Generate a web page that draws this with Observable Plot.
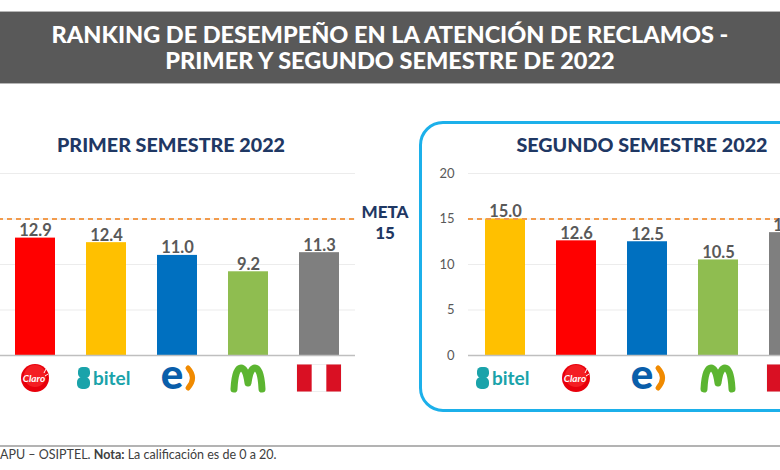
<!DOCTYPE html>
<html>
<head>
<meta charset="utf-8">
<script src="https://cdn.jsdelivr.net/npm/d3@7"></script>
<script src="https://cdn.jsdelivr.net/npm/@observablehq/plot@0.6"></script>
<style>
  html, body { margin: 0; padding: 0; }
  body { width: 780px; height: 470px; overflow: hidden; position: relative; background: #fff; font-family: Lato, "Open Sans", sans-serif; }
  .abs { position: absolute; }
  #banner { left: 0; top: 11px; width: 780px; height: 71px; background: #595959; border-top: 1px solid #b5b5b5; border-bottom: 1px solid #b5b5b5; }
  #banner div { position: absolute; left: 0; width: 780px; text-align: center; color: #fff; font-weight: 900; font-size: 23.5px; line-height: 26px; }
  .ptitle { color: #1f3864; font-weight: 900; font-size: 19.7px; text-align: center; line-height: 22px; white-space: nowrap; }
  #box { left: 419px; top: 121px; width: 420px; height: 285px; border: 3px solid #1cb0ea; border-radius: 24px; }
  #meta { left: 355px; top: 201px; width: 60px; text-align: center; color: #1f3864; font-weight: 900; font-size: 17px; line-height: 21px; }
  #footline { left: 0; top: 445px; width: 780px; height: 2px; background: #b3b3b3; }
  #foot { left: 0; top: 447px; font-size: 12.5px; color: #404040; white-space: nowrap; line-height: 16px; }
  .plotwrap svg { max-width: none !important; overflow: visible; }
</style>
</head>
<body>
<div id="banner" class="abs">
  <div id="t1" style="top:9px"></div>
  <div id="t2" style="top:35px"></div>
</div>
<div id="box" class="abs"></div>
<div id="title1" class="abs ptitle" style="left:21px; top:134px; width:300px;"></div>
<div id="title2" class="abs ptitle" style="left:492px; top:134px; width:300px;"></div>
<div id="chart1" class="abs plotwrap" style="left:-12px; top:160px;"></div>
<div id="chart2" class="abs plotwrap" style="left:418px; top:160px;"></div>
<div id="meta" class="abs"></div>
<div id="footline" class="abs"></div>
<div id="foot" class="abs"></div>

<script>
// ---- Data ----
const titulo1 = "RANKING DE DESEMPEÑO EN LA ATENCIÓN DE RECLAMOS -";
const titulo2 = "PRIMER Y SEGUNDO SEMESTRE DE 2022";
const panel1Titulo = "PRIMER SEMESTRE 2022";
const panel2Titulo = "SEGUNDO SEMESTRE 2022";
const operadores1 = ["Claro", "Bitel", "Entel", "Movistar", "Perú"];
const valores1 = [12.9, 12.4, 11.0, 9.2, 11.3];
const operadores2 = ["Bitel", "Claro", "Entel", "Movistar", "Perú"];
const valores2 = [15.0, 12.6, 12.5, 10.5, 13.5];
const meta = 15;
const metaEtiqueta = "META";
const yTicks = [0, 5, 10, 15, 20];
const coloresOperador = { Claro: "#ff0000", Bitel: "#ffc000", Entel: "#0070c0", Movistar: "#8fbd50", "Perú": "#7f7f7f" };

document.getElementById("t1").textContent = titulo1;
document.getElementById("t2").textContent = titulo2;
document.getElementById("title1").textContent = panel1Titulo;
document.getElementById("title2").textContent = panel2Titulo;
document.getElementById("meta").innerHTML = metaEtiqueta + "<br>" + meta;
document.getElementById("foot").innerHTML = "APU – OSIPTEL. <b>Nota:</b> La calificación es de 0 a 20.";

function drawLogo(g, op, cx, cy) {
  const s = g.append("g").attr("transform", `translate(${cx},${cy})`).attr("font-family", "Lato, sans-serif");
  if (op === "Claro") {
    s.append("circle").attr("r", 14).attr("fill", "#e8000b");
    s.append("circle").attr("r", 11).attr("cy", -2).attr("fill", "#ff3b3b").attr("opacity", 0.5);
    s.append("text").attr("text-anchor", "middle").attr("x", -1).attr("y", 3.5).attr("font-size", 10).attr("font-style", "italic")
      .attr("font-weight", "bold").attr("fill", "#fff").text("Claro");
    s.append("path").attr("d", "M9,-5 L11,-9 M10,-2 L13,-4").attr("stroke", "#fff").attr("stroke-width", 1);
  } else if (op === "Bitel") {
    s.append("rect").attr("x", -28).attr("y", -11).attr("width", 12).attr("height", 11).attr("rx", 4.5).attr("fill", "#1aa3aa");
    s.append("rect").attr("x", -29).attr("y", -1).attr("width", 13).attr("height", 12).attr("rx", 5).attr("fill", "#1aa3aa");
    s.append("text").attr("text-anchor", "start").attr("x", -13).attr("y", 7).attr("font-size", 19).attr("font-weight", "bold")
      .attr("fill", "#1aa3aa").text("bitel");
  } else if (op === "Entel") {
    s.append("text").attr("text-anchor", "middle").attr("x", -5).attr("y", 11).attr("font-size", 42).attr("font-weight", 900)
      .attr("fill", "#0a5eaa").text("e");
    s.append("path").attr("d", "M11,-10 Q20,0 11,10").attr("fill", "none").attr("stroke", "#f08a00").attr("stroke-width", 5).attr("stroke-linecap", "round");
  } else if (op === "Movistar") {
    s.append("path").attr("d", "M-14,11 Q-13,-10 -7,-10 Q-2,-10 0,5 Q2,-10 7,-10 Q13,-10 14,11")
      .attr("fill", "none").attr("stroke", "#5cb531").attr("stroke-width", 7).attr("stroke-linecap", "round").attr("stroke-linejoin", "round");
  } else if (op === "Perú") {
    const w = 44, h = 27;
    s.append("rect").attr("x", -w / 2).attr("y", -h / 2).attr("width", w).attr("height", h).attr("fill", "#fff").attr("stroke", "#e3e3e3").attr("stroke-width", 0.6);
    s.append("rect").attr("x", -w / 2).attr("y", -h / 2).attr("width", w / 3).attr("height", h).attr("fill", "#d91023");
    s.append("rect").attr("x", w / 6).attr("y", -h / 2).attr("width", w / 3).attr("height", h).attr("fill", "#d91023");
  }
}

function makeChart(ops, vals, width, marginLeft, showAxis) {
  const data = ops.map((op, i) => ({ op, v: vals[i] }));
  const p = Plot.plot({
    width, height: 245, marginTop: 13, marginBottom: 50, marginLeft, marginRight: 0,
    style: { background: "transparent", overflow: "visible", fontFamily: "Lato, sans-serif", fontSize: "13px", color: "#595959", maxWidth: "none" },
    x: { domain: ops, paddingInner: 0.44, paddingOuter: 0.22, axis: null },
    y: { domain: [0, 20], ticks: yTicks, axis: showAxis ? "left" : null, tickSize: 0, tickPadding: 14, label: null },
    color: { type: "identity" },
    marks: [
      Plot.ruleY(yTicks.filter(t => t > 0), { stroke: "#ececec", strokeWidth: 1.2 }),
      Plot.barY(data, { x: "op", y: "v", fill: d => coloresOperador[d.op] }),
      Plot.ruleY([0], { stroke: "#bfbfbf", strokeWidth: 1.5 }),
      Plot.ruleY([meta], { stroke: "#f29b4c", strokeWidth: 2, strokeDasharray: "5,4" }),
      Plot.text(data, { x: "op", y: "v", text: d => d.v.toFixed(1), lineAnchor: "bottom", dy: -2, fill: "#595959", fontWeight: "bold", fontSize: 16.5 })
    ]
  });
  const xs = p.scale("x"), ys = p.scale("y");
  const g = d3.select(p).append("g");
  ops.forEach(op => {
    const cx = xs.apply(op) + xs.bandwidth / 2;
    const cy = ys.apply(0) + 23;
    drawLogo(g, op, cx, cy);
  });
  return p;
}

document.getElementById("chart1").appendChild(makeChart(operadores1, valores1, 367, 10, false));
document.getElementById("chart2").appendChild(makeChart(operadores2, valores2, 408, 50, true));
</script>
</body>
</html>
